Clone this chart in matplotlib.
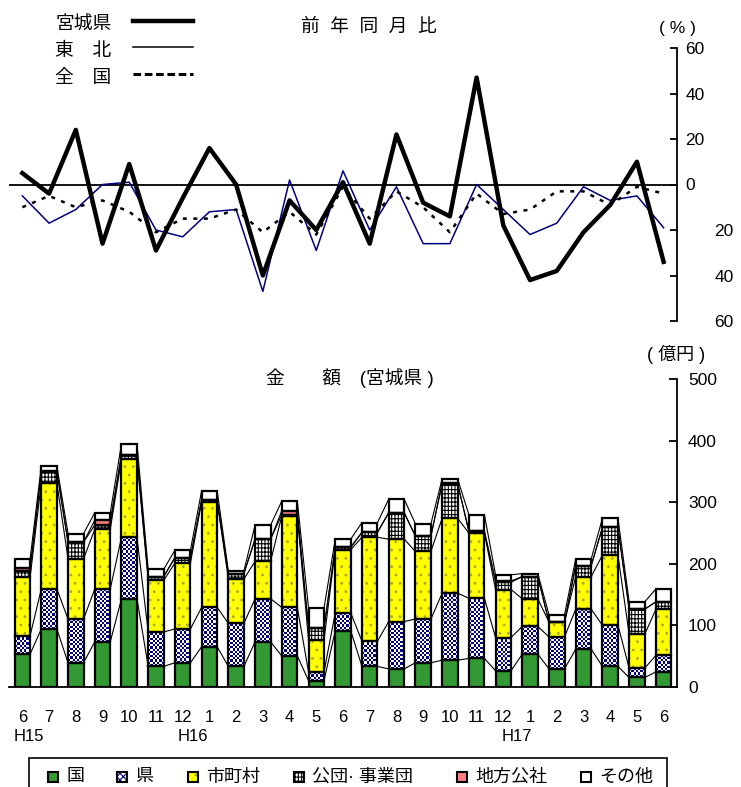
import matplotlib
matplotlib.use('Agg')
import matplotlib.pyplot as plt
from matplotlib.patches import Rectangle
from matplotlib.lines import Line2D
from matplotlib.colors import ListedColormap
import numpy as np

plt.rcParams['font.family'] = ['Liberation Sans', 'Noto Sans CJK JP']
plt.rcParams['hatch.linewidth'] = 0.8

# ---------------- data ----------------
months = ['6', '7', '8', '9', '10', '11', '12', '1', '2', '3', '4', '5', '6',
          '7', '8', '9', '10', '11', '12', '1', '2', '3', '4', '5', '6']
era_labels = ['H15', 'H16', 'H17']

# year-on-year change (%)
miyagi = [5, -4, 24, -26, 9, -29, -6, 16, 0, -40, -7, -20, 1,
          -26, 22, -8, -14, 47, -18, -42, -38, -21, -9, 10, -34]
tohoku = [-5, -17, -11, 0, 1, -20, -23, -12, -11, -47, 2, -29, 6,
          -20, -1, -26, -26, 0, -11, -22, -17, -1, -7, -5, -19]
zenkoku = [-10, -5, -10, -7, -12, -21, -15, -15, -11, -21, -12, -22, -1,
           -15, -3, -10, -21, -4, -13, -11, -3, -3, -9, -1, -4]

# amounts (億円), Miyagi
kuni = [53, 94, 39, 73, 143, 33, 39, 65, 33, 73, 50, 10, 91,
        33, 29, 39, 43, 46, 26, 53, 29, 61, 33, 15, 24]
ken = [30, 65, 71, 86, 100, 56, 55, 64, 70, 70, 79, 14, 29,
       41, 77, 71, 109, 98, 54, 45, 52, 65, 67, 15, 27]
shichoson = [95, 173, 98, 97, 127, 84, 107, 172, 72, 61, 149, 52, 103,
             169, 134, 110, 122, 106, 78, 45, 24, 53, 114, 55, 75]
kodan = [10, 18, 27, 7, 7, 6, 9, 3, 9, 36, 2, 19, 4,
         8, 43, 25, 56, 3, 12, 36, 0, 18, 45, 41, 12]
kosha = [5, 1, 0, 8, 0, 0, 0, 0, 0, 0, 6, 0, 0,
         0, 0, 0, 1, 0, 2, 0, 0, 0, 0, 0, 0]
sonota = [15, 8, 14, 12, 18, 12, 12, 15, 4, 23, 16, 33, 13,
          16, 22, 20, 7, 27, 10, 5, 12, 11, 15, 12, 21]

series_names = ['国', '県', '市町村', '公団· 事業団', '地方公社', 'その他']
series_vals = [kuni, ken, shichoson, kodan, kosha, sonota]

pct_ticks = [-60, -40, -20, 0, 20, 40, 60]
pct_ticklabels = ['60', '40', '20', '0', '20', '40', '60']
amt_ticks = [0, 100, 200, 300, 400, 500]

# ---------------- styles ----------------
faces = ['#339933', 'white', '#FFFF00', 'white', '#FF8080', 'white']
hatches = [None, None, '..', '++++|', None, None]
hatch_cols = ['#339933', 'white', '#a8a830', 'black', '#FF8080', 'white']
checker_series = 1          # index of the checkerboard-patterned series
checker_cmap = ListedColormap(['white', '#000080'])

W, H = 741, 787
fig = plt.figure(figsize=(W / 100, H / 100), dpi=100)


def fx(px):
    return px / W


def fy(py):
    return 1 - py / H


x = np.arange(len(months))

# ---------------- top chart ----------------
ax1 = fig.add_axes([fx(9), fy(321), fx(677) - fx(9), fy(48) - fy(321)])
ax1.set_xlim(-0.5, len(months) - 0.5)
ax1.set_ylim(-60, 60)
for s in ['left', 'top', 'bottom']:
    ax1.spines[s].set_visible(False)
ax1.spines['right'].set_linewidth(1.3)
ax1.axhline(0, color='black', lw=1.3, zorder=1)
ax1.plot(x, tohoku, color='#000080', lw=1.1, zorder=2)
ax1.plot(x, zenkoku, color='black', lw=1.8, dashes=(1.6, 2.6), zorder=3)
ax1.plot(x, miyagi, color='black', lw=3.2, zorder=4)
ax1.set_xticks([])
ax1.set_yticks(pct_ticks)
ax1.set_yticklabels(pct_ticklabels)
ax1.tick_params(axis='y', left=False, labelleft=False, right=True, labelright=True,
                direction='in', length=5, width=1.3, labelsize=12.5)
for t, v in zip(ax1.yaxis.get_major_ticks(), pct_ticks):
    t.set_pad(6 if v >= 0 else 27)

fig.text(fx(369), fy(27), '前  年  同  月  比', ha='center', va='center', fontsize=13.5)
fig.text(fx(677), fy(28), '( % )', ha='center', va='center', fontsize=12.5)

# line legend (top-left)
leg_items = [('宮城県', dict(color='black', lw=3.2)),
             ('東　北', dict(color='black', lw=1.1)),
             ('全　国', dict(color='black', lw=2.2, dashes=(2.5, 1.2)))]
for k, (lab, kw) in enumerate(leg_items):
    yy = [21, 47, 74][k]
    fig.text(fx(55), fy(yy + 4), lab, ha='left', va='center', fontsize=13.5)
    fig.add_artist(Line2D([fx(133), fx(193)], [fy(yy), fy(yy)], transform=fig.transFigure, **kw))

# ---------------- bottom chart ----------------
ax2 = fig.add_axes([fx(9), fy(686.7), fx(677) - fx(9), fy(379.3) - fy(686.7)])
for s in ['left', 'top']:
    ax2.spines[s].set_visible(False)
ax2.spines['right'].set_linewidth(1.3)
ax2.spines['bottom'].set_linewidth(1.3)

bw = 0.58
px_per_unit = (686.7 - 379.3) / 500.0
bottom = np.zeros(len(months))
tops = []
for k, (vals, fc, ht, hc) in enumerate(zip(series_vals, faces, hatches, hatch_cols)):
    v = np.array(vals, dtype=float)
    ax2.bar(x, v, bw, bottom=bottom, facecolor=fc, edgecolor=hc, hatch=ht, linewidth=0, zorder=2)
    if k == checker_series:
        for xi, b0, h in zip(x, bottom, v):
            ny = max(1, int(round(h * px_per_unit / 2.2)))
            nx = 7
            board = (np.add.outer(np.arange(ny), np.arange(nx)) % 2).astype(float)
            ax2.imshow(board, cmap=checker_cmap, vmin=0, vmax=1, interpolation='nearest',
                       aspect='auto', origin='lower',
                       extent=[xi - bw / 2, xi + bw / 2, b0, b0 + h], zorder=2.5)
    ax2.bar(x, v, bw, bottom=bottom, fill=False, edgecolor='black', linewidth=1.6, zorder=3)
    bottom = bottom + v
    tops.append(bottom.copy())

# series lines connecting bars
for c in tops:
    for i in range(len(months) - 1):
        ax2.plot([x[i] + bw / 2, x[i + 1] - bw / 2], [c[i], c[i + 1]],
                 color='black', lw=0.8, zorder=1)

ax2.set_xlim(-0.5, len(months) - 0.5)
ax2.set_ylim(0, 500)
ax2.set_yticks(amt_ticks)
ax2.tick_params(axis='y', left=False, labelleft=False, right=True, labelright=True,
                direction='in', length=6, width=1.3, labelsize=12.5, pad=8)
ax2.set_xticks(x)
ax2.set_xticklabels(months)
ax2.tick_params(axis='x', length=0, labelsize=12, pad=17)
for lab, pos in zip(era_labels, [0.25, 6.4, 18.5]):
    ax2.text(pos, -81, lab, ha='center', va='center', fontsize=12)

fig.text(fx(350), fy(378), '金　　額　(宮城県 )', ha='center', va='center', fontsize=13.5)
fig.text(fx(676), fy(354), '( 億円 )', ha='center', va='center', fontsize=13)

# ---------------- legend (bottom) ----------------
fig.add_artist(Rectangle((fx(29), fy(805)), fx(667) - fx(29), fy(758) - fy(805),
                         transform=fig.transFigure, fill=False, edgecolor='black',
                         linewidth=1.2))
patch_x = [48, 117, 188, 294, 457, 581]
for k, (name, fc, ht, hc, px) in enumerate(zip(series_names, faces, hatches, hatch_cols, patch_x)):
    if k == checker_series:
        fig.add_artist(Rectangle((fx(px), fy(782)), fx(10), fy(772) - fy(782),
                                 transform=fig.transFigure, facecolor='white',
                                 edgecolor='#000080', hatch='xxxxx', linewidth=0))
    else:
        fig.add_artist(Rectangle((fx(px), fy(782)), fx(10), fy(772) - fy(782),
                                 transform=fig.transFigure, facecolor=fc, edgecolor=hc,
                                 hatch=ht, linewidth=0))
    fig.add_artist(Rectangle((fx(px), fy(782)), fx(10), fy(772) - fy(782),
                             transform=fig.transFigure, fill=False, edgecolor='black',
                             linewidth=1.5))
    fig.text(fx(px + 18), fy(777), name, ha='left', va='center', fontsize=13)

fig.savefig('out.png', dpi=100)
